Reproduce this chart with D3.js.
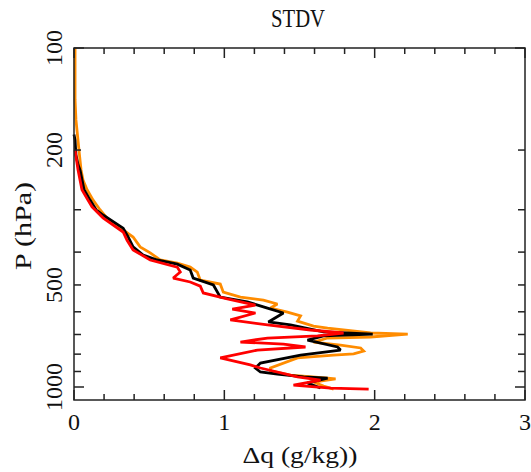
<!DOCTYPE html>
<html><head><meta charset="utf-8">
<script src="https://cdn.jsdelivr.net/npm/d3@7"></script>
<style>html,body{margin:0;padding:0;background:#fff;}svg{display:block;}</style>
</head><body>
<script>
// ---- data ----
const title = "STDV";
const xLabel = "Δq  (g/kg))";
const yLabel = "P  (hPa)";
const xTickLabels = [0, 1, 2, 3];
const yTickLabels = [100, 200, 500, 1000];
const yMinorTicks = [100, 200, 300, 400, 500, 600, 700, 800, 900, 1000];

const orangeP = [100,142,163,175,200,229,245,262,281,300,326,344,361,386,402,422,431,443,458,484,497,525,543,554,569,585,601,617,639,661,670,693,698,712,717,737,752,767,783,799,805,821,879,897,922,941,947,967,993,1014];
const orangeV = [0.007,0.007,0.013,0.02,0.033,0.047,0.06,0.087,0.127,0.173,0.24,0.327,0.393,0.44,0.507,0.573,0.687,0.773,0.82,0.84,0.973,0.993,1.107,1.26,1.353,1.307,1.42,1.507,1.487,1.593,1.687,1.973,2.22,1.973,1.687,1.593,1.773,1.907,1.927,1.86,1.727,1.487,1.307,1.307,1.44,1.687,1.74,1.593,1.66,1.727];

const blackP = [180,187,207,221,229,262,281,300,311,340,361,386,408,422,434,452,477,500,543,561,585,605,643,656,688,698,707,727,762,778,805,850,879,903,916,934,941,973,1007];
const blackV = [0,0.007,0.013,0.027,0.04,0.067,0.107,0.147,0.193,0.327,0.36,0.393,0.46,0.553,0.687,0.773,0.793,0.927,0.973,1.153,1.287,1.393,1.293,1.44,1.66,1.987,1.66,1.553,1.753,1.773,1.507,1.24,1.207,1.24,1.353,1.527,1.687,1.553,1.64];

const redP = [200,229,262,281,294,317,349,369,394,422,443,458,477,490,504,528,550,573,589,605,634,656,679,693,707,717,737,747,762,778,821,861,879,934,954,987,1007,1014];
const redV = [0.007,0.027,0.053,0.093,0.12,0.193,0.327,0.353,0.393,0.507,0.687,0.707,0.66,0.773,0.84,0.86,1.02,1.207,1.053,1.207,1.04,1.287,1.573,1.793,1.62,1.287,1.107,1.393,1.54,1.22,0.973,1.173,1.24,1.487,1.64,1.46,1.707,1.96];

const series = [
  {p: orangeP, v: orangeV, color: "#ff8c00"},
  {p: blackP, v: blackV, color: "#000000"},
  {p: redP, v: redV, color: "#ff0000"}
];

(function () {
// ---- layout ----
const W = 531, H = 472;
const mLeft = 74, mRight = 525, mTop = 48, mBottom = 400;
const svg = d3.select("body").append("svg").attr("width", W).attr("height", H);

const x = d3.scaleLinear().domain([0, 3]).range([mLeft, mRight]);
const y = d3.scaleLog().domain([100, 1000]).range([mTop, 387]);

const font = "'Liberation Serif', 'Times New Roman', serif";

// lines
const line = d3.line().x(d => x(d[1])).y(d => y(d[0]));
series.forEach(s => {
  const pts = s.p.map((p, i) => [p, s.v[i]]);
  svg.append("path").datum(pts).attr("d", line)
    .attr("fill", "none").attr("stroke", s.color)
    .attr("stroke-width", 2.8).attr("stroke-linejoin", "miter").attr("stroke-miterlimit", 2);
});

// frame
svg.append("rect").attr("x", mLeft).attr("y", mTop).attr("width", mRight - mLeft).attr("height", mBottom - mTop)
  .attr("fill", "none").attr("stroke", "#222").attr("stroke-width", 1.5);

// ticks
const g = svg.append("g").attr("stroke", "#222").attr("stroke-width", 1.5);
d3.range(0, 3.0001, 0.2).forEach(v => {
  const major = Math.abs(v - Math.round(v)) < 1e-6;
  const len = major ? 10 : 6;
  const xx = x(v);
  g.append("line").attr("x1", xx).attr("x2", xx).attr("y1", mBottom).attr("y2", mBottom - len);
  g.append("line").attr("x1", xx).attr("x2", xx).attr("y1", mTop).attr("y2", mTop + len);
});
yMinorTicks.forEach(p => {
  const major = (p === 100 || p === 1000);
  const len = major ? 10 : 7;
  const yy = y(p);
  g.append("line").attr("x1", mLeft).attr("x2", mLeft + len).attr("y1", yy).attr("y2", yy);
  g.append("line").attr("x1", mRight).attr("x2", mRight - len).attr("y1", yy).attr("y2", yy);
});

// x tick labels
xTickLabels.forEach(v => {
  svg.append("text").attr("x", x(v)).attr("y", 430)
    .attr("text-anchor", "middle").attr("font-family", font).attr("font-size", 24)
    .attr("fill", "#111").text(v);
});
// y tick labels (rotated)
yTickLabels.forEach(p => {
  svg.append("text").attr("transform", `translate(62,${y(p)}) rotate(-90)`)
    .attr("text-anchor", "middle").attr("font-family", font).attr("font-size", 24)
    .attr("fill", "#111").text(p);
});

// titles
svg.append("text").attr("x", 298).attr("y", 27).attr("text-anchor", "middle")
  .attr("font-family", font).attr("font-size", 25).attr("fill", "#111")
  .attr("textLength", 54).attr("lengthAdjust", "spacingAndGlyphs").text(title);
svg.append("text").attr("x", 300).attr("y", 463).attr("text-anchor", "middle")
  .attr("font-family", font).attr("font-size", 23).attr("fill", "#111")
  .attr("textLength", 115).attr("lengthAdjust", "spacingAndGlyphs").text(xLabel);
svg.append("text").attr("transform", "translate(31,226) rotate(-90)").attr("text-anchor", "middle")
  .attr("font-family", font).attr("font-size", 23).attr("fill", "#111")
  .attr("textLength", 88).attr("lengthAdjust", "spacingAndGlyphs").text(yLabel);
})();
</script>
</body></html>
